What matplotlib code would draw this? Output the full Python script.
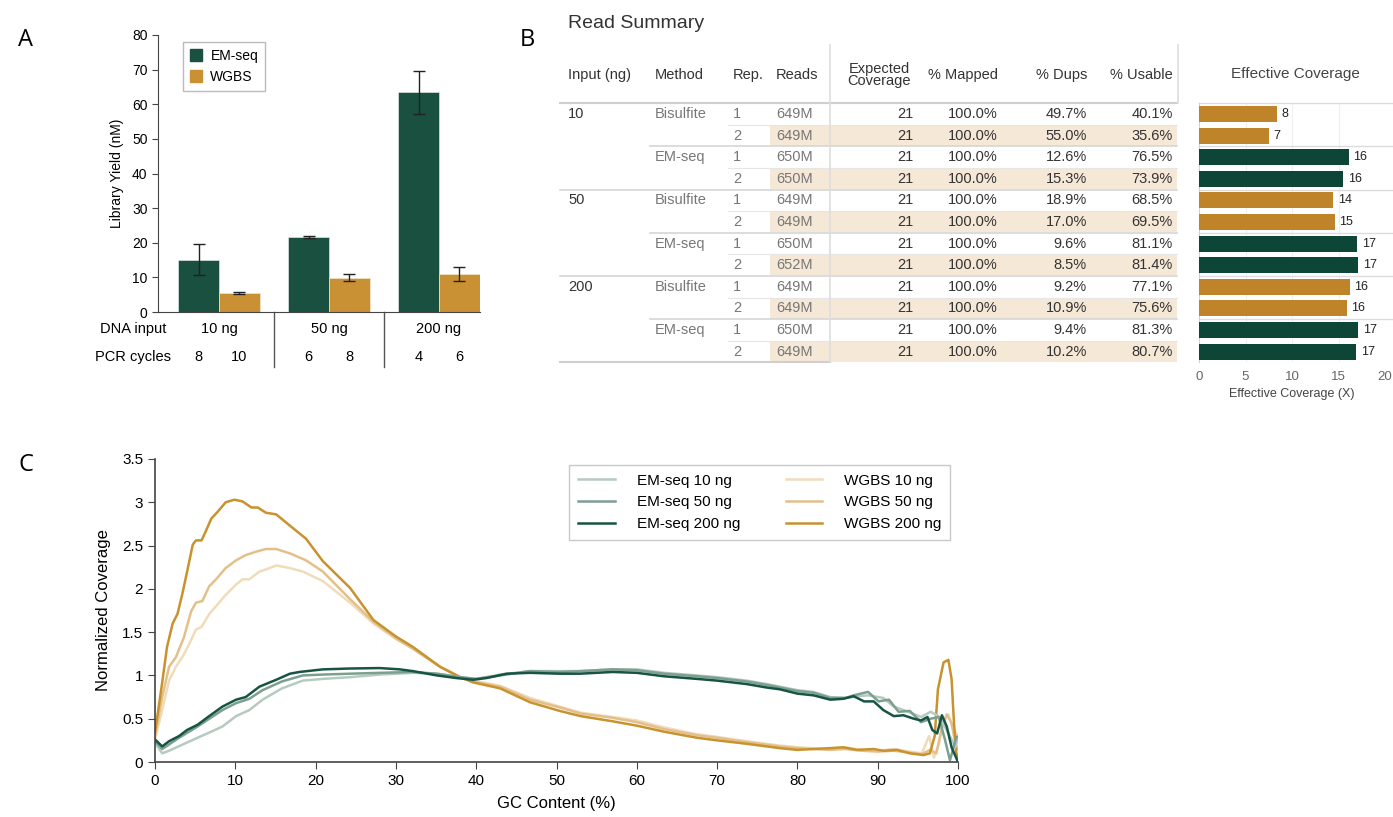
import matplotlib.pyplot as plt
from matplotlib.patches import Patch
import numpy as np

plt.rcParams['font.family'] = ['Liberation Sans', 'DejaVu Sans']

# ---------------- data ----------------
# panel A: library yield
dna_input = ['10 ng', '50 ng', '200 ng']
pcr_em = ['8', '6', '4']
pcr_wgbs = ['10', '8', '6']
em_yield = [15.1, 21.7, 63.4]
em_lo = [10.7, 21.3, 57.3]
em_hi = [19.6, 22.0, 69.6]
wgbs_yield = [5.6, 9.8, 11.1]
wgbs_lo = [5.3, 8.95, 8.95]
wgbs_hi = [5.9, 10.9, 13.1]

# panel B: read summary table
input_ng = ['10', '50', '200']
methods = ['Bisulfite', 'EM-seq']
reps = ['1', '2']
reads = ['649M', '649M', '650M', '650M', '649M', '649M',
         '650M', '652M', '649M', '649M', '650M', '649M']
expected_cov = [21, 21, 21, 21, 21, 21, 21, 21, 21, 21, 21, 21]
pct_mapped = [100.0] * 12
pct_dups = [49.7, 55.0, 12.6, 15.3, 18.9, 17.0, 9.6, 8.5, 9.2, 10.9, 9.4, 10.2]
pct_usable = [40.1, 35.6, 76.5, 73.9, 68.5, 69.5, 81.1, 81.4, 77.1, 75.6, 81.3, 80.7]
eff_cov = [8.4, 7.5, 16.1, 15.5, 14.4, 14.6, 17.0, 17.1, 16.2, 15.9, 17.1, 16.9]
eff_labels = ['8', '7', '16', '16', '14', '15', '17', '17', '16', '16', '17', '17']

# panel C: GC coverage
wgbs200_x = [0, 0.9, 1.5, 2.2, 2.8, 3.4, 4.0, 4.7, 5.1, 5.8, 6.3, 7.0, 7.8, 8.8, 9.9, 10.9, 12.0,
             12.8, 13.8, 15.1, 16.8, 18.8, 20.9, 24.3, 27.2, 30, 32.1, 35.5, 38, 39.6, 43, 46.7,
             50.4, 53, 57, 60, 63.4, 67.5, 70, 73.7, 77.8, 80, 84.1, 85.7, 87.4, 89.5, 90.7,
             92.4, 94.0, 95.7, 96.5, 97.1, 97.5, 98.2, 98.8, 99.2, 99.5, 99.8, 100]
wgbs200_y = [0.34, 0.92, 1.33, 1.6, 1.71, 1.94, 2.2, 2.51, 2.56, 2.56, 2.66, 2.81, 2.89, 3.0, 3.03,
             3.01, 2.94, 2.94, 2.88, 2.86, 2.73, 2.58, 2.32, 2.01, 1.64, 1.45, 1.33, 1.10, 0.98,
             0.92, 0.85, 0.69, 0.59, 0.53, 0.47, 0.42, 0.35, 0.28, 0.25, 0.21, 0.16, 0.14, 0.16,
             0.17, 0.14, 0.15, 0.13, 0.14, 0.10, 0.08, 0.10, 0.30, 0.84, 1.15, 1.18, 0.96, 0.45,
             0.10, 0.05]
wgbs50_x = [0, 0.9, 1.75, 2.6, 3.6, 4.5, 5.1, 5.9, 6.75, 7.6, 8.8, 10.1, 11.3, 12.6, 13.8, 15.1,
            16.8, 18.8, 20.9, 24.3, 27.2, 30, 32.1, 35.5, 38, 39.6, 43, 46.7, 50.4, 53, 57, 60,
            63.4, 67.5, 70, 73.7, 77.8, 80, 84, 86, 88, 90, 92, 94, 95.5, 96.5, 97.3, 98, 98.6,
            99.2, 99.7, 100]
wgbs50_y = [0.30, 0.75, 1.10, 1.21, 1.44, 1.74, 1.84, 1.86, 2.03, 2.11, 2.24, 2.33, 2.39, 2.43,
            2.46, 2.46, 2.41, 2.33, 2.20, 1.88, 1.62, 1.43, 1.31, 1.10, 0.98, 0.93, 0.87, 0.72,
            0.63, 0.56, 0.51, 0.46, 0.38, 0.31, 0.28, 0.23, 0.18, 0.16, 0.14, 0.15, 0.13, 0.12,
            0.13, 0.11, 0.09, 0.14, 0.10, 0.40, 0.55, 0.45, 0.20, 0.15]
wgbs10_x = [0, 0.9, 1.75, 2.6, 3.4, 4.25, 5.1, 5.8, 6.75, 7.6, 8.8, 10.1, 10.9, 11.75, 13, 14,
            15.1, 16.8, 18.4, 20.9, 24.3, 27.2, 30, 32.1, 35.5, 38, 39.6, 43, 46.7, 50.4, 53, 57,
            60, 63.4, 67.5, 70, 73.7, 77.8, 80, 84, 86, 88, 90, 92, 94, 95.5, 96.4, 97, 97.6,
            98.2, 98.8, 99.3, 99.7, 100]
wgbs10_y = [0.26, 0.60, 0.94, 1.10, 1.21, 1.36, 1.53, 1.56, 1.71, 1.80, 1.93, 2.05, 2.11, 2.11,
            2.20, 2.23, 2.27, 2.24, 2.20, 2.09, 1.84, 1.60, 1.42, 1.31, 1.10, 0.98, 0.94, 0.88,
            0.74, 0.64, 0.57, 0.52, 0.48, 0.40, 0.32, 0.29, 0.24, 0.19, 0.17, 0.15, 0.17, 0.14,
            0.13, 0.15, 0.12, 0.10, 0.30, 0.05, 0.20, 0.47, 0.55, 0.40, 0.34, 0.30]
em200_x = [0, 0.9, 1.75, 3, 4, 5.3, 6.75, 8.4, 10.1, 11.3, 13, 15.1, 16.8, 18, 20.9, 24.3, 28,
           30.5, 32.1, 35.1, 37.5, 39.6, 41.3, 43.8, 46.7, 50.4, 52.9, 57, 60, 63.4, 67.5, 70,
           73.7, 76.2, 77.8, 80, 82, 84.1, 85.7, 87.0, 88.3, 89.5, 90.7, 92.0, 93.2, 94.5, 95.4,
           96.2, 96.8, 97.4, 98.0, 98.6, 99.2, 100]
em200_y = [0.26, 0.18, 0.24, 0.30, 0.37, 0.43, 0.53, 0.64, 0.72, 0.75, 0.87, 0.95, 1.02, 1.04,
           1.07, 1.08, 1.085, 1.07, 1.05, 1.00, 0.97, 0.95, 0.97, 1.02, 1.03, 1.02, 1.02, 1.04,
           1.03, 0.99, 0.96, 0.94, 0.90, 0.86, 0.84, 0.79, 0.77, 0.72, 0.73, 0.76, 0.70, 0.70,
           0.60, 0.53, 0.54, 0.50, 0.48, 0.52, 0.37, 0.33, 0.54, 0.41, 0.17, 0.0]
em50_x = [0, 0.9, 3, 5.3, 8.4, 10.1, 11.75, 13.4, 15.8, 18.4, 20.9, 24.3, 28, 32.1, 35.1, 38,
          40, 43, 46.7, 50.4, 53, 57, 60, 63.4, 67.5, 70, 73.7, 76.2, 80, 82, 84.1, 86, 87.0,
          88.8, 90.1, 91.4, 92.6, 94.0, 95.4, 96.6, 97.6, 98.4, 99.0, 99.8, 100]
em50_y = [0.24, 0.15, 0.28, 0.41, 0.60, 0.68, 0.73, 0.83, 0.93, 1.00, 1.01, 1.02, 1.03, 1.04,
          1.02, 0.98, 0.96, 1.00, 1.05, 1.04, 1.05, 1.07, 1.06, 1.02, 0.99, 0.97, 0.93, 0.89,
          0.82, 0.80, 0.74, 0.74, 0.77, 0.81, 0.70, 0.72, 0.58, 0.59, 0.46, 0.50, 0.52, 0.25,
          0.02, 0.29, 0.29]
em10_x = [0, 0.9, 1.75, 3.4, 5.3, 6.75, 8.4, 10.1, 11.75, 13.4, 15.8, 18.4, 20.9, 24.3, 28,
          32.1, 35.1, 38, 40, 43, 46.7, 50.4, 53, 57, 60, 63.4, 67.5, 70, 73.7, 76.2, 80, 82,
          84.1, 86, 87.5, 88.8, 90.7, 92.0, 93.8, 95.4, 96.6, 97.7, 98.8, 99.7, 100]
em10_y = [0.22, 0.10, 0.13, 0.20, 0.28, 0.34, 0.41, 0.53, 0.60, 0.72, 0.85, 0.94, 0.96, 0.98,
          1.01, 1.03, 1.02, 0.98, 0.96, 1.01, 1.05, 1.05, 1.05, 1.07, 1.07, 1.03, 1.00, 0.98,
          0.94, 0.90, 0.83, 0.81, 0.75, 0.74, 0.76, 0.77, 0.74, 0.64, 0.58, 0.52, 0.58, 0.52,
          0.33, 0.17, 0.30]

EM = '#19503f'
GOLD = '#c99133'
EM_B = '#0d4636'
GOLD_B = '#bf8329'

W, H = 1393, 817


def box(x0, y0, x1, y1):
    # pixel rectangle (top-left origin) -> figure fraction
    return [x0 / W, 1 - y1 / H, (x1 - x0) / W, (y1 - y0) / H]


fig = plt.figure(figsize=(W / 100, H / 100), dpi=100)

for lab, px, py in [('A', 18, 40), ('B', 520, 40), ('C', 18, 465)]:
    fig.text(px / W, 1 - py / H, lab, fontsize=17, family=['Open Sans', 'DejaVu Sans'],
             ha='left', va='center')

# ---------------- panel A ----------------
ax = fig.add_axes(box(158, 35, 480, 312))
x = np.arange(len(dna_input))
bw = 0.37
em_err = [np.array(em_yield) - np.array(em_lo), np.array(em_hi) - np.array(em_yield)]
wg_err = [np.array(wgbs_yield) - np.array(wgbs_lo), np.array(wgbs_hi) - np.array(wgbs_yield)]
ax.bar(x - bw / 2, em_yield, bw, color=EM, edgecolor='#dde3e0', linewidth=0.5,
       yerr=em_err, error_kw=dict(ecolor='#222', elinewidth=1, capsize=4, capthick=1))
ax.bar(x + bw / 2, wgbs_yield, bw, color=GOLD, edgecolor='#f0e4cc', linewidth=0.5,
       yerr=wg_err, error_kw=dict(ecolor='#222', elinewidth=1, capsize=4, capthick=1))
ax.set_xlim(-0.555, 2.373)
ax.set_ylim(0, 80)
ax.set_yticks(range(0, 81, 10))
ax.set_xticks([])
ax.tick_params(axis='y', labelsize=10, direction='out', length=4, color='#444')
for s in ['top', 'right']:
    ax.spines[s].set_visible(False)
for s in ['left', 'bottom']:
    ax.spines[s].set_color('#444')
ax.set_ylabel('Library Yield (nM)', fontsize=10, labelpad=6)
tr = ax.get_xaxis_transform()
ax.text(-0.78, -0.062, 'DNA input', transform=tr, ha='center', va='center', fontsize=10.5,
        clip_on=False)
ax.text(-0.78, -0.163, 'PCR cycles', transform=tr, ha='center', va='center', fontsize=10.5,
        clip_on=False)
for i in range(len(dna_input)):
    ax.text(x[i], -0.062, dna_input[i], transform=tr, ha='center', va='center', fontsize=10.5)
    ax.text(x[i] - bw / 2, -0.163, pcr_em[i], transform=tr, ha='center', va='center', fontsize=10.5)
    ax.text(x[i] + bw / 2, -0.163, pcr_wgbs[i], transform=tr, ha='center', va='center', fontsize=10.5)
for d in [0.5, 1.5]:
    ax.plot([d, d], [0, -0.2], transform=tr, color='#555', lw=1, clip_on=False)
ax.legend(handles=[Patch(color=EM, label='EM-seq'), Patch(color=GOLD, label='WGBS')],
          loc='upper left', bbox_to_anchor=(0.055, 1.0), fontsize=10, frameon=True,
          fancybox=False, edgecolor='#aaa', handlelength=0.9, handleheight=0.9,
          handletextpad=0.6, borderpad=0.5, labelspacing=0.5)

# ---------------- panel B: table ----------------
fig.text(568 / W, 1 - 24 / H, 'Read Summary', fontsize=14, color='#333', ha='left', va='center')
ROW0, ROWH = 114, 21.6
tb = fig.add_axes(box(555, 40, 1180, 365))
tb.set_xlim(555, 1180)
tb.set_ylim((365 - ROW0) / ROWH, (40 - ROW0) / ROWH)
tb.axis('off')
fs = 10.5
hdr_y = (75 - ROW0) / ROWH
for txt, cx, ha in [('Input (ng)', 568, 'left'), ('Method', 655, 'left'), ('Rep.', 733, 'left'),
                    ('Reads', 776, 'left'), ('% Mapped', 998, 'right'), ('% Dups', 1087, 'right'),
                    ('% Usable', 1173, 'right')]:
    tb.text(cx, hdr_y, txt, ha=ha, va='center', fontsize=fs, color='#333')
tb.text(879, hdr_y, 'Expected\nCoverage', ha='center', va='center', fontsize=fs, color='#333',
        linespacing=0.9)

n = len(reads)
for r in range(n):
    if r % 2 == 1:
        tb.fill_between([770, 1177], r - 0.47, r + 0.47, color='#f6e8d6', lw=0)
        tb.plot([728, 1177], [r - 0.5, r - 0.5], color='#e6e6e6', lw=0.8)
    if r % 4 == 0:
        tb.text(568, r, input_ng[r // 4], ha='left', va='center', fontsize=fs, color='#333')
    if r % 2 == 0:
        tb.text(655, r, methods[(r // 2) % 2], ha='left', va='center', fontsize=fs, color='#777')
    tb.text(733, r, reps[r % 2], ha='left', va='center', fontsize=fs, color='#777')
    tb.text(776, r, reads[r], ha='left', va='center', fontsize=fs, color='#777')
    tb.text(913, r, str(expected_cov[r]), ha='right', va='center', fontsize=fs, color='#333')
    tb.text(998, r, f'{pct_mapped[r]:.1f}%', ha='right', va='center', fontsize=fs, color='#333')
    tb.text(1087, r, f'{pct_dups[r]:.1f}%', ha='right', va='center', fontsize=fs, color='#333')
    tb.text(1173, r, f'{pct_usable[r]:.1f}%', ha='right', va='center', fontsize=fs, color='#333')

tb.plot([560, 1177], [-0.5, -0.5], color='#cfcfcf', lw=1.5)
for g in [3.5, 7.5]:
    tb.plot([560, 1177], [g, g], color='#d6d6d6', lw=1.2)
for g in [1.5, 5.5, 9.5]:
    tb.plot([650, 1177], [g, g], color='#d6d6d6', lw=1.2)
tb.plot([560, 830], [11.5, 11.5], color='#cfcfcf', lw=1.5)
tb.plot([830, 830], [(45 - ROW0) / ROWH, 11.5], color='#dddddd', lw=1.2)
tb.plot([1178, 1178], [(45 - ROW0) / ROWH, -0.5], color='#dddddd', lw=1.2)

# ---------------- panel B: effective coverage ----------------
fig.text(1295 / W, 1 - 74 / H, 'Effective Coverage', fontsize=11, color='#444', ha='center',
         va='center')
bx = fig.add_axes(box(1199, ROW0 - 0.5 * ROWH, 1385, ROW0 + 11.5 * ROWH))
rows = np.arange(n)
cols = [GOLD_B, GOLD_B, EM_B, EM_B] * 3
bx.barh(rows, eff_cov, height=0.74, color=cols, zorder=3)
for r in range(n):
    bx.text(eff_cov[r] + 0.5, r, eff_labels[r], ha='left', va='center', fontsize=9,
            color='#222', zorder=4)
bx.set_xlim(0, 20)
bx.set_ylim(11.5, -0.5)
bx.set_yticks([])
bx.set_xticks([0, 5, 10, 15, 20])
bx.tick_params(axis='x', length=0, labelsize=9.5, labelcolor='#666', pad=6)
for v in [5, 10, 15]:
    bx.axvline(v, color='#efefef', lw=0.8, zorder=0)
for g in [-0.5, 1.5, 3.5, 5.5, 7.5, 9.5]:
    bx.plot([0, 1.05], [g, g], transform=bx.get_yaxis_transform(), color='#dcdcdc', lw=1,
            zorder=1, clip_on=False)
for s in ['top', 'right', 'bottom']:
    bx.spines[s].set_visible(False)
bx.spines['left'].set_color('#d0d0d0')
bx.set_xlabel('Effective Coverage (X)', fontsize=9, color='#444', labelpad=4)

# ---------------- panel C ----------------
cx = fig.add_axes(box(155, 459, 958, 762))
curves = [
    ('WGBS 10 ng', wgbs10_x, wgbs10_y, '#f1dcba'),
    ('WGBS 50 ng', wgbs50_x, wgbs50_y, '#e3c08a'),
    ('WGBS 200 ng', wgbs200_x, wgbs200_y, '#c8922e'),
    ('EM-seq 10 ng', em10_x, em10_y, '#b5cbbf'),
    ('EM-seq 50 ng', em50_x, em50_y, '#7d9f90'),
    ('EM-seq 200 ng', em200_x, em200_y, '#165443'),
]
handles = {}
for lab, xs, ys, c in curves:
    handles[lab], = cx.plot(xs, ys, color=c, lw=1.8, label=lab, solid_joinstyle='round')
cx.set_xlim(0, 100)
cx.set_ylim(0, 3.5)
cx.set_xticks(range(0, 101, 10))
cx.set_yticks([0, 0.5, 1, 1.5, 2, 2.5, 3, 3.5])
cx.set_yticklabels(['0', '0.5', '1', '1.5', '2', '2.5', '3', '3.5'])
cx.tick_params(labelsize=11, direction='out', length=5, color='#444')
for s in ['top', 'right']:
    cx.spines[s].set_visible(False)
for s in ['left', 'bottom']:
    cx.spines[s].set_color('#444')
    cx.spines[s].set_linewidth(1.2)
cx.set_xlabel('GC Content (%)', fontsize=12, labelpad=6)
cx.set_ylabel('Normalized Coverage', fontsize=12, labelpad=8)
order = ['EM-seq 10 ng', 'EM-seq 50 ng', 'EM-seq 200 ng', 'WGBS 10 ng', 'WGBS 50 ng', 'WGBS 200 ng']
cx.legend([handles[k] for k in order], order, ncol=2, loc='upper right',
          bbox_to_anchor=(1.0, 1.007), fontsize=11, frameon=True, fancybox=False,
          edgecolor='#bbb', handlelength=2.4, handletextpad=1.4, columnspacing=3.0,
          borderpad=0.6, labelspacing=0.5)

fig.savefig('out.png', dpi=100)
